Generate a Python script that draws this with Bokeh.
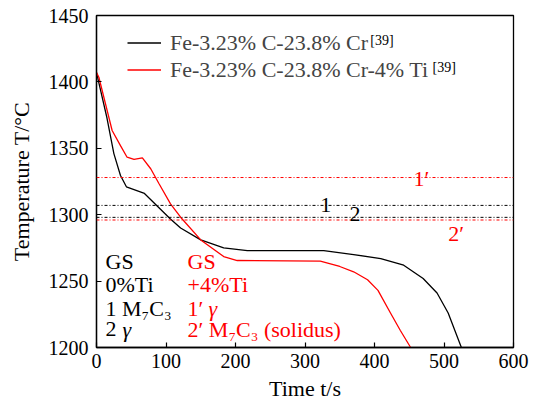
from bokeh.plotting import figure
from bokeh.models import Span, Label, Legend, LegendItem, Range1d
from bokeh.embed import file_html
from bokeh.resources import INLINE

# Cooling curves (time in s, temperature in deg C)
time_cr = [0, 15, 25, 34.5, 43, 69, 106, 121, 150, 183, 217, 327, 370, 409, 442, 470, 490, 506, 525]
temp_cr = [1407, 1373, 1346, 1329.5, 1321, 1316, 1297, 1290, 1281, 1275, 1273, 1273, 1270, 1267, 1262, 1252, 1241, 1226, 1200]

time_ti = [0, 3.4, 22.5, 34.5, 44, 54, 66, 78, 90, 106.5, 121, 150, 183, 202.5, 322, 350, 370, 390, 405, 423, 437, 452]
temp_ti = [1407, 1403.5, 1363.4, 1352, 1343.3, 1341.6, 1342.8, 1334.6, 1323.3, 1308.2, 1298.1, 1281, 1268.5, 1265.5, 1265, 1261, 1257, 1251, 1243, 1226, 1213, 1200]

# Phase-start temperatures: 1 = M7C3, 2 = gamma (0% Ti); 1' = gamma, 2' = M7C3 solidus (+4% Ti)
levels_cr = [1307, 1298]
levels_ti = [1328, 1296]

x_ticks = [0, 100, 200, 300, 400, 500, 600]
y_ticks = [1200, 1250, 1300, 1350, 1400, 1450]

FONT = "Liberation Serif"
TICK_FS = "20px"
FS = "22px"

p = figure(width=536, height=403, output_backend="svg", toolbar_location=None,
           x_range=Range1d(0, 600), y_range=Range1d(1200, 1450),
           min_border_left=96, min_border_right=23, min_border_top=15, min_border_bottom=56,
           x_axis_label="Time t/s", y_axis_label="Temperature T/°C")

p.grid.visible = False
p.outline_line_color = "black"
p.outline_line_width = 1.3

p.xaxis.ticker = x_ticks
p.yaxis.ticker = y_ticks
for ax in (p.xaxis, p.yaxis):
    ax.major_tick_in = 5
    ax.major_tick_out = 0
    ax.minor_tick_in = 0
    ax.minor_tick_out = 0
    ax.axis_line_color = "black"
    ax.axis_line_width = 1.3
    ax.major_tick_line_color = "black"
    ax.major_tick_line_width = 1.2
    ax.major_label_text_font = FONT
    ax.major_label_text_font_size = TICK_FS
    ax.major_label_text_color = "black"
    ax.axis_label_text_font = FONT
    ax.axis_label_text_font_size = FS
    ax.axis_label_text_color = "black"
p.xaxis.axis_label_text_font_style = "normal"
p.yaxis.axis_label_text_font_style = "normal"
p.xaxis.major_label_standoff = 6
p.xaxis.axis_label_standoff = 5
p.yaxis.major_label_standoff = 8
p.yaxis.axis_label_standoff = 12

# Reference temperature lines
for lv in levels_cr:
    p.add_layout(Span(location=lv, dimension="width", line_color="black",
                      line_width=1, line_dash="3 2 1 2"))
for lv in levels_ti:
    p.add_layout(Span(location=lv, dimension="width", line_color="red",
                      line_width=1, line_dash="3 2 1 2"))

r_cr = p.line(time_cr, temp_cr, line_color="black", line_width=1.3)
r_ti = p.line(time_ti, temp_ti, line_color="red", line_width=1.3)

legend = Legend(items=[LegendItem(label="Fe-3.23% C-23.8% Cr", renderers=[r_cr]),
                       LegendItem(label="Fe-3.23% C-23.8% Cr-4% Ti", renderers=[r_ti])],
                location=(31, 264), padding=0, margin=0, spacing=0,
                glyph_width=34, glyph_height=27, label_height=27, label_standoff=9,
                label_text_font=FONT, label_text_font_size=FS,
                border_line_alpha=0, background_fill_alpha=0)
p.add_layout(legend)


def lab(x, y, text, color="black", size=FS, italic=False):
    kw = dict(text_font_style="italic") if italic else {}
    p.add_layout(Label(x=x, y=y, text=text, text_color=color, text_font=FONT,
                       text_font_size=size, text_baseline="middle", **kw))


# Reference superscripts in the legend
lab(394, 1431, "[39]", size="14px")
lab(483.5, 1410.5, "[39]", size="14px")

# Line labels
lab(456, 1327.6, "1′", color="red")
lab(322, 1307, "1")
lab(364, 1300.5, "2")
lab(506, 1286.2, "2′", color="red")

# Key in the lower-left corner
lab(13, 1264.8, "GS")
lab(13, 1247.7, "0%Ti")
lab(13, 1229.4, "1 M₇C₃")
lab(13, 1213.9, "2")
lab(37.4, 1213.9, "γ", italic=True)

lab(131, 1264.8, "GS", color="red")
lab(131, 1247.7, "+4%Ti", color="red")
lab(131, 1229.4, "1′", color="red")
lab(161, 1229.4, "γ", color="red", italic=True)
lab(131, 1213.9, "2′ M₇C₃ (solidus)", color="red")

open("out.html", "w").write(file_html(p, INLINE))
